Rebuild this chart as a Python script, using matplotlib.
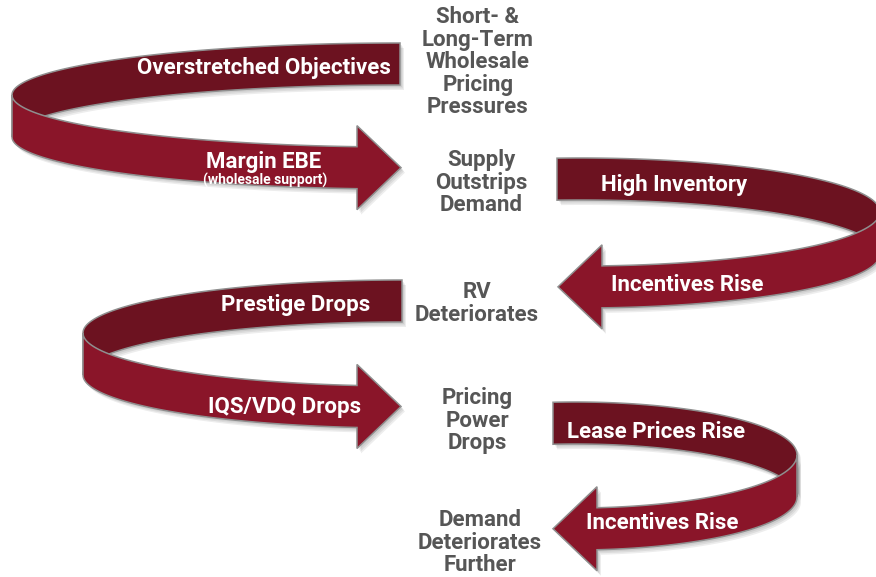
import numpy as np
import matplotlib
matplotlib.use("Agg")
import matplotlib.pyplot as plt
from matplotlib.patches import Polygon

plt.rcParams['font.family'] = ['Roboto', 'DejaVu Sans']

# text on the ribbons: (back band label, front band label)
ribbon_labels = [
    ("Overstretched Objectives", "Margin EBE"),
    ("High Inventory", "Incentives Rise"),
    ("Prestige Drops", "IQS/VDQ Drops"),
    ("Lease Prices Rise", "Incentives Rise"),
]
sub_label = "(wholesale support)"

# grey stage captions between the ribbons
stage_labels = [
    ["Short- &", "Long-Term", "Wholesale", "Pricing", "Pressures"],
    ["Supply", "Outstrips", "Demand"],
    ["RV", "Deteriorates"],
    ["Pricing", "Power", "Drops"],
    ["Demand", "Deteriorates", "Further"],
]

# layout (pixel space): ellipse centre, radii, turn side, back end x, arrow base x
ribbons = [
    dict(cx=400, cy=95, a=388, b=52, side="left", back_x=400, base_x=357),
    dict(cx=580, cy=212, a=300, b=54, side="right", back_x=557, base_x=602),
    dict(cx=402, cy=333, a=319, b=53, side="left", back_x=402, base_x=357),
    dict(cx=575, cy=455, a=222, b=53, side="right", back_x=553, base_x=597),
]
band_h = 42
head_len = 44
head_over = 21
back_pos = [(264, 68), (674, 185), (296, 305), (656, 432)]
front_pos = [(264, 162), (687, 285), (285, 407), (662, 523)]
stage_pos = [(478, 17), (481, 160), (477, 292), (477, 398), (480, 520)]
line_gap = 22.6
fs = 16

BACK = "#6c1220"
FRONT = "#8a1529"
EDGE = "#8f8f8f"
GREY = "#565656"

fig = plt.figure(figsize=(8.76, 5.77), dpi=100)
ax = fig.add_axes([0, 0, 1, 1])
ax.set_xlim(0, 876)
ax.set_ylim(577, 0)
ax.axis("off")


def curve(r, t):
    return r["cx"] + r["a"] * np.cos(t), r["cy"] + r["b"] * np.sin(t)


def band(x, y):
    return np.column_stack([np.r_[x, x[::-1]], np.r_[y, (y + band_h)[::-1]]])


def draw(pts, color, z):
    # soft drop shadow, then the filled shape with a grey rim
    for dx, dy in [(4, 5), (3, 3.5), (2, 2)]:
        ax.add_patch(Polygon(pts + [dx, dy], closed=True, fc="#000000", ec="none",
                             alpha=0.07, zorder=z - 0.5))
    ax.add_patch(Polygon(pts, closed=True, fc=color, ec=EDGE, lw=1.1, zorder=z))


for i, r in enumerate(ribbons):
    th0 = np.arccos((r["back_x"] - r["cx"]) / r["a"])
    th1 = np.arccos((r["base_x"] - r["cx"]) / r["a"])
    if r["side"] == "left":
        t_back = np.linspace(2 * np.pi - th0, np.pi, 200)
        t_front = np.linspace(np.pi, th1, 200)
        sgn = 1
    else:
        t_back = np.linspace(-th0, 0, 200)
        t_front = np.linspace(0, th1, 200)
        sgn = -1
    z = 2 + 3 * i
    bx, by = curve(r, t_back)
    draw(band(bx, by), BACK, z)

    fx, fy = curve(r, t_front)
    top = np.column_stack([fx, fy])
    bot = np.column_stack([fx, fy + band_h])[::-1]
    xe, ye = fx[-1], fy[-1]
    head = np.array([
        [xe, ye - head_over],
        [xe + sgn * head_len, ye + band_h / 2],
        [xe, ye + band_h + head_over],
    ])
    draw(np.vstack([top, head, bot]), FRONT, z + 1)

    back_txt, front_txt = ribbon_labels[i]
    ax.text(*back_pos[i], back_txt, color="white", fontsize=fs, fontweight="bold",
            ha="center", va="center", zorder=z + 2)
    ax.text(*front_pos[i], front_txt, color="white", fontsize=fs, fontweight="bold",
            ha="center", va="center", zorder=z + 2)

ax.text(265, 180, sub_label, color="white", fontsize=10, fontweight="bold",
        ha="center", va="center", zorder=20)

for (x, y), lines in zip(stage_pos, stage_labels):
    for j, line in enumerate(lines):
        ax.text(x, y + j * line_gap, line, color=GREY, fontsize=fs, fontweight="bold",
                ha="center", va="center", zorder=20)

fig.savefig("out.png", dpi=100, facecolor="white")
